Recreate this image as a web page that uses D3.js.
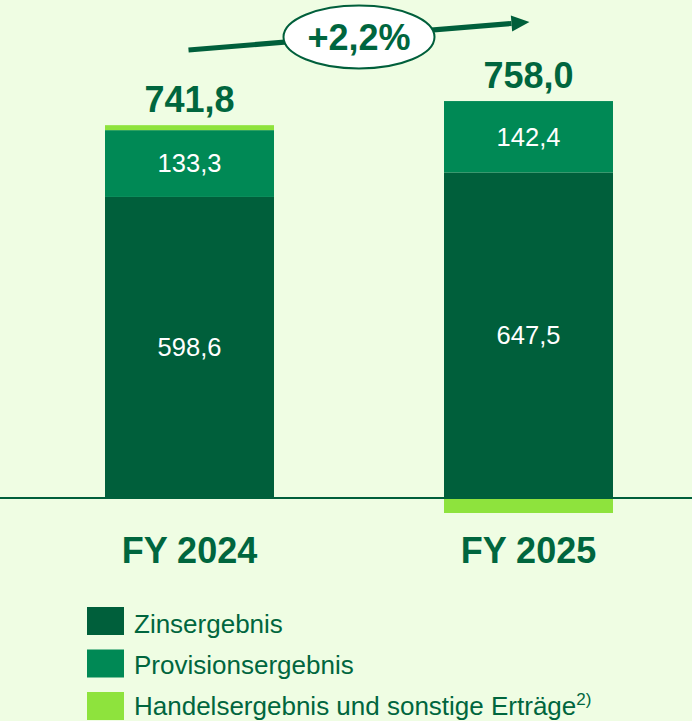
<!DOCTYPE html>
<html lang="de">
<head>
  <meta charset="UTF-8">
  <title>Erträge FY 2024 / FY 2025</title>
  <script src="https://d3js.org/d3.v7.min.js"></script>
  <style>
    html, body {
      margin: 0;
      padding: 0;
      background: #effde3;
    }
    svg {
      display: block;
      font-family: "Liberation Sans", Arial, sans-serif;
    }
  </style>
</head>
<body>
  <div id="chart"></div>

  <script>
    // data
    const years = ["FY 2024", "FY 2025"];
    const keys = ["Zinsergebnis", "Provisionsergebnis", "Handelsergebnis"];
    const legendLabels = ["Zinsergebnis", "Provisionsergebnis", "Handelsergebnis und sonstige Erträge"];
    const zins = [598.6, 647.5];
    const provision = [133.3, 142.4];
    const handel = [9.9, -31.9];
    const totals = ["741,8", "758,0"];
    const growth = "+2,2%";

    const colors = ["#005f3b", "#008955", "#8ee33d"];
    const textColor = "#00663e";

    const width = 692, height = 721;
    const baseY = 497;

    const table = years.map((y, i) => ({
      year: y,
      Zinsergebnis: zins[i],
      Provisionsergebnis: provision[i],
      Handelsergebnis: handel[i],
      total: totals[i]
    }));

    const svg = d3.select("#chart")
      .append("svg")
      .attr("width", width)
      .attr("height", height);

    // bar centres
    const xc = d3.scalePoint().domain(years).range([189.5, 528.5]);
    const barW = 169;

    const y = d3.scaleLinear()
      .domain([0, 800])
      .range([baseY, baseY - 401]);

    const stack = d3.stack()
      .keys(keys)
      .offset(d3.stackOffsetDiverging);
    const series = stack(table);

    const fmt = v => d3.format(".1f")(v).replace(".", ",");

    series.forEach((s, k) => {
      svg.append("g")
        .selectAll("rect")
        .data(s)
        .enter()
        .append("rect")
        .attr("x", d => xc(d.data.year) - barW / 2)
        .attr("width", barW)
        .attr("y", d => y(Math.max(d[0], d[1])))
        .attr("height", d => Math.abs(y(d[0]) - y(d[1])))
        .attr("fill", colors[k]);
    });

    // inner labels for the two big segments
    series.slice(0, 2).forEach(s => {
      svg.append("g")
        .selectAll("text")
        .data(s)
        .enter()
        .append("text")
        .attr("x", d => xc(d.data.year))
        .attr("y", d => (y(d[0]) + y(d[1])) / 2)
        .attr("dy", "0.35em")
        .attr("text-anchor", "middle")
        .attr("fill", "white")
        .style("font-size", "25.5px")
        .text(d => fmt(d[1] - d[0]));
    });

    // zero line
    svg.append("line")
      .attr("x1", 0)
      .attr("x2", width)
      .attr("y1", y(0) + 1)
      .attr("y2", y(0) + 1)
      .attr("stroke", "#005f3b")
      .attr("stroke-width", 2);

    // totals above bars
    const topOf = d => y(d.Zinsergebnis + d.Provisionsergebnis + Math.max(0, d.Handelsergebnis));
    svg.append("g")
      .selectAll("text")
      .data(table)
      .enter()
      .append("text")
      .attr("x", d => xc(d.year))
      .attr("y", d => topOf(d) - 13)
      .attr("text-anchor", "middle")
      .attr("fill", textColor)
      .style("font-size", "36px")
      .style("font-weight", "bold")
      .text(d => d.total);

    // category labels
    svg.append("g")
      .selectAll("text")
      .data(years)
      .enter()
      .append("text")
      .attr("x", d => xc(d))
      .attr("y", 563)
      .attr("text-anchor", "middle")
      .attr("fill", textColor)
      .style("font-size", "36px")
      .style("font-weight", "bold")
      .text(d => d);

    // growth arrow
    const ax0 = xc(years[0]) - 1, ay0 = 50;
    const ax1 = xc(years[1]) - 17, ay1 = 23.5;
    svg.append("line")
      .attr("x1", ax0).attr("y1", ay0)
      .attr("x2", ax1).attr("y2", ay1)
      .attr("stroke", "#005f3b")
      .attr("stroke-width", 5);
    const ang = Math.atan2(ay1 - ay0, ax1 - ax0);
    const tip = [ax1 + 18 * Math.cos(ang), ay1 + 18 * Math.sin(ang)];
    const n = [-Math.sin(ang), Math.cos(ang)];
    svg.append("path")
      .attr("d", `M${tip[0]},${tip[1]} L${ax1 + 8 * n[0]},${ay1 + 8 * n[1]} L${ax1 - 8 * n[0]},${ay1 - 8 * n[1]} Z`)
      .attr("fill", "#005f3b");

    svg.append("ellipse")
      .attr("cx", 359)
      .attr("cy", 37)
      .attr("rx", 75.5)
      .attr("ry", 31.5)
      .attr("fill", "white")
      .attr("stroke", "#005f3b")
      .attr("stroke-width", 2);
    svg.append("text")
      .attr("x", 359)
      .attr("y", 50)
      .attr("text-anchor", "middle")
      .attr("fill", textColor)
      .style("font-size", "36px")
      .style("font-weight", "bold")
      .text(growth);

    // legend
    const legend = svg.append("g")
      .attr("transform", "translate(87, 607)");
    legendLabels.forEach((lab, i) => {
      legend.append("rect")
        .attr("x", 0)
        .attr("y", i * 42.5)
        .attr("width", 37)
        .attr("height", 28)
        .attr("fill", colors[i]);
      const t = legend.append("text")
        .attr("x", 47)
        .attr("y", 26 + i * 41)
        .attr("fill", textColor)
        .style("font-size", "26px")
        .text(lab);
      if (i === 2) {
        t.append("tspan")
          .attr("dy", -10)
          .style("font-size", "17px")
          .text("2)");
      }
    });
  </script>
</body>
</html>
